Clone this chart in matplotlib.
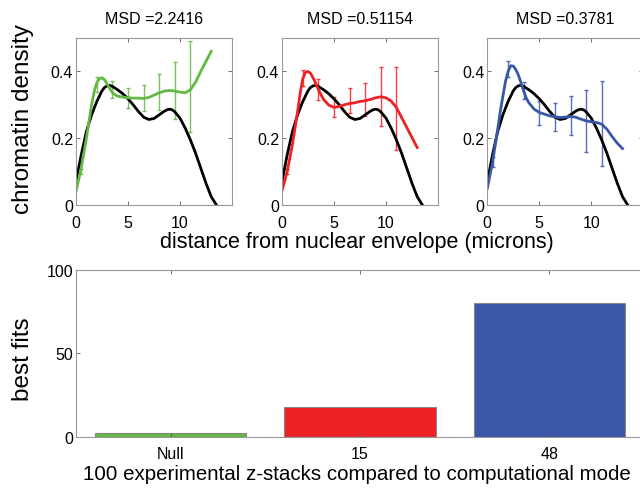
import matplotlib
matplotlib.use('Agg')
import matplotlib.pyplot as plt

# model curve (black), same in every panel
model_x = [0, 0.5, 1, 1.5, 2, 2.5, 2.75, 3, 3.25, 3.5, 4, 4.5, 5, 5.5, 6, 6.5, 7, 7.5,
           8, 8.5, 8.75, 9, 9.25, 9.5, 10, 10.5, 11, 11.5, 12, 12.5, 13, 13.5]
model_y = [0.07, 0.15, 0.22, 0.27, 0.31, 0.342, 0.352, 0.357, 0.358, 0.355, 0.345,
           0.333, 0.318, 0.30, 0.28, 0.263, 0.256, 0.259, 0.27, 0.281, 0.285, 0.287,
           0.285, 0.279, 0.26, 0.23, 0.195, 0.155, 0.11, 0.065, 0.025, 0.0]

# fitted experimental curves
fit_x = [0, 0.5, 1, 1.25, 1.5, 1.75, 2, 2.25, 2.5, 2.75, 3, 3.25, 3.5, 3.75, 4, 4.5,
         5, 5.5, 6, 6.5, 7, 7.5, 8, 8.5, 9, 9.5, 10, 10.5, 11, 11.5, 12, 12.5, 13]
null_y = [0.04, 0.11, 0.20, 0.25, 0.30, 0.34, 0.366, 0.378, 0.381, 0.375, 0.362,
          0.348, 0.337, 0.33, 0.326, 0.323, 0.321, 0.32, 0.32, 0.319, 0.322, 0.329,
          0.336, 0.341, 0.343, 0.341, 0.338, 0.336, 0.345, 0.368, 0.40, 0.43, 0.46]
m15_y = [0.043, 0.10, 0.18, 0.23, 0.28, 0.335, 0.378, 0.397, 0.40, 0.394, 0.38,
         0.364, 0.346, 0.33, 0.316, 0.299, 0.292, 0.295, 0.30, 0.304, 0.306, 0.31,
         0.312, 0.316, 0.321, 0.324, 0.321, 0.311, 0.292, 0.262, 0.232, 0.202, 0.172]
m48_y = [0.05, 0.127, 0.227, 0.28, 0.326, 0.37, 0.40, 0.417, 0.416, 0.405, 0.388,
         0.365, 0.341, 0.32, 0.306, 0.287, 0.277, 0.272, 0.267, 0.264, 0.262, 0.263,
         0.265, 0.263, 0.257, 0.252, 0.249, 0.247, 0.242, 0.227, 0.205, 0.185, 0.169]

# experimental means with error bars
err_x = [0.5, 2, 3.5, 5, 6.5, 8, 9.5, 11]
null_mean = [0.10, 0.361, 0.346, 0.32, 0.32, 0.337, 0.342, 0.355]
null_err = [0.008, 0.023, 0.025, 0.03, 0.04, 0.054, 0.085, 0.135]
m15_mean = [0.10, 0.38, 0.346, 0.292, 0.312, 0.315, 0.325, 0.289]
m15_err = [0.008, 0.025, 0.032, 0.03, 0.037, 0.05, 0.088, 0.124]
m48_mean = [0.13, 0.407, 0.343, 0.276, 0.263, 0.268, 0.252, 0.244]
m48_err = [0.015, 0.023, 0.026, 0.036, 0.041, 0.059, 0.092, 0.127]

msd = ['MSD =2.2416', 'MSD =0.51154', 'MSD =0.3781']

bar_labels = ['Null', '15', '48']
bar_values = [2, 18, 80]

green = '#62b843'
red = '#ee2124'
blue = '#3a56a8'

plt.rcParams['font.family'] = ['Liberation Sans', 'DejaVu Sans']
narrow = ['Liberation Sans Narrow', 'Liberation Sans', 'DejaVu Sans']

fig = plt.figure(figsize=(6.4, 4.89), dpi=100)

def style(ax, xpad):
    ax.tick_params(direction='in', length=3, top=True, right=True, width=0.6,
                   color='#555555', labelsize=11.5)
    ax.tick_params(axis='x', pad=xpad)
    ax.tick_params(axis='y', pad=2)
    for s in ax.spines.values():
        s.set_color('#999999')
        s.set_linewidth(0.8)

lefts = [76, 282, 487.3]
fits = [(null_y, null_mean, null_err, green),
        (m15_y, m15_mean, m15_err, red),
        (m48_y, m48_mean, m48_err, blue)]

for i, (fy, mean, err, col) in enumerate(fits):
    ax = fig.add_axes([lefts[i] / 640, (489 - 206) / 489, 156 / 640, 167 / 489])
    ax.errorbar(err_x, mean, yerr=err, fmt='none', ecolor=col, elinewidth=1.0,
                capsize=1.5, capthick=1.0, alpha=0.85)
    ax.plot(model_x, model_y, color='black', lw=2.0)
    ax.plot(fit_x, fy, color=col, lw=2.0)
    ax.set_xlim(0, 15)
    ax.set_ylim(0, 0.5)
    ax.set_xticks([0, 5, 10])
    ax.set_yticks([0, 0.2, 0.4])
    ax.set_yticklabels(['0', '0.2', '0.4'])
    ax.set_title(msd[i], fontsize=11.5, pad=11, family=narrow)
    style(ax, 7)
    if i == 0:
        ax.set_ylabel('chromatin density', fontsize=17.5)
        ax.yaxis.set_label_coords((34 - 76) / 156, 0.52)

fig.text(357 / 640, 1 - 243 / 489, 'distance from nuclear envelope (microns)',
         ha='center', va='center', fontsize=15.5)

axb = fig.add_axes([76 / 640, (489 - 437.7) / 489, 568 / 640, 167 / 489])
axb.bar([1, 2, 3], bar_values, width=0.8, color=[green, red, blue],
        edgecolor='#888888', linewidth=0.8)
axb.set_xlim(0.5, 3.5)
axb.set_ylim(0, 100)
axb.set_xticks([1, 2, 3])
axb.set_xticklabels(bar_labels)
axb.set_yticks([0, 50, 100])
style(axb, 7)
axb.set_ylabel('best fits', fontsize=17.5)
axb.yaxis.set_label_coords((34 - 76) / 568, 0.47)

fig.text(357 / 640, 1 - 475 / 489,
         '100 experimental z-stacks compared to computational mode',
         ha='center', va='center', fontsize=14.8)

fig.savefig('out.png', dpi=100)
